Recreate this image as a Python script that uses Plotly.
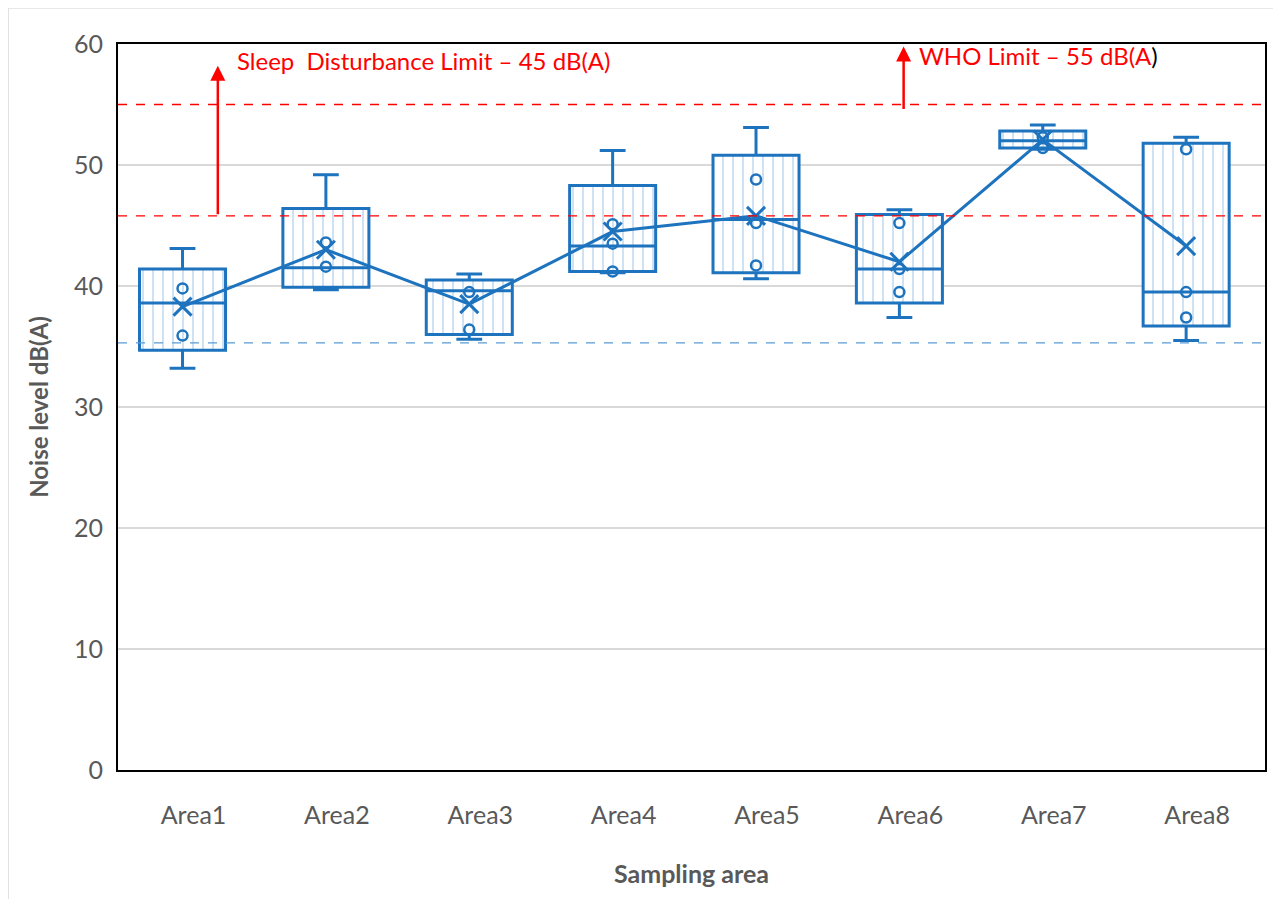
import plotly.graph_objects as go

areas = ["Area1", "Area2", "Area3", "Area4", "Area5", "Area6", "Area7", "Area8"]
q1 = [34.7, 39.9, 36.0, 41.2, 41.1, 38.6, 51.4, 36.7]
median = [38.6, 41.5, 39.6, 43.3, 45.5, 41.4, 52.0, 39.5]
q3 = [41.4, 46.4, 40.5, 48.3, 50.8, 45.9, 52.8, 51.8]
lower = [33.2, 39.7, 35.6, 41.1, 40.6, 37.4, 51.3, 35.5]
upper = [43.1, 49.2, 41.0, 51.2, 53.1, 46.3, 53.3, 52.3]
means = [38.3, 43.0, 38.5, 44.5, 45.8, 42.0, 52.1, 43.3]

pt_area = ["Area1", "Area1", "Area2", "Area2", "Area3", "Area3",
           "Area4", "Area4", "Area4", "Area5", "Area5", "Area5",
           "Area6", "Area6", "Area6", "Area7", "Area7",
           "Area8", "Area8", "Area8"]
pt_val = [39.8, 35.9, 43.6, 41.6, 39.5, 36.4,
          45.1, 43.5, 41.2, 48.8, 45.2, 41.7,
          45.2, 41.4, 39.5, 51.4, 52.3,
          51.3, 39.5, 37.4]

limit_who = 55.0
limit_sleep = 45.8
limit_low = 35.3

BLUE = "#1E73BE"
GRAY = "#595959"
FONT = "Lato"

# page has an 8px body margin: figure coords = page coords - 8
OFF = 8
W, H = 1265, 891
L, T = 118 - OFF, 44 - OFF
R = W - (1267 - OFF)
B = H - (770 - OFF)
pw = W - L - R
ph = H - T - B

def px2paper_x(p):
    return (p - OFF - L) / pw

def px2paper_y(p):
    return (H - B - (p - OFF)) / ph

fig = go.Figure()

iq = [b - a for a, b in zip(q1, q3)]
fig.add_trace(go.Bar(
    x=areas, y=iq, base=q1, width=0.6,
    marker=dict(color="white",
                pattern=dict(shape="|", fgcolor="#7FB2E0", bgcolor="white", size=10, solidity=0.15),
                line=dict(width=0)),
    showlegend=False, hoverinfo="skip"))

fig.add_trace(go.Box(
    x=areas, q1=q1, median=median, q3=q3, lowerfence=lower, upperfence=upper,
    width=0.6, whiskerwidth=0.3, fillcolor="rgba(0,0,0,0)",
    line=dict(color=BLUE, width=3), boxpoints=False, showlegend=False))

fig.add_trace(go.Scatter(
    x=pt_area, y=pt_val, mode="markers",
    marker=dict(symbol="circle-open", size=10, color=BLUE, line=dict(width=2.5, color=BLUE)),
    showlegend=False))

fig.add_trace(go.Scatter(
    x=areas, y=means, mode="lines+markers",
    line=dict(color=BLUE, width=3),
    marker=dict(symbol="x-thin-open", size=18, color=BLUE, line=dict(width=3, color=BLUE)),
    showlegend=False))

for yv, col in [(limit_who, "red"), (limit_sleep, "red"), (limit_low, "#5B9BD5")]:
    fig.add_shape(type="line", xref="paper", yref="y", x0=0, x1=1, y0=yv, y1=yv,
                  line=dict(color=col, width=1.3, dash="dash"))

# outer frame (top and left edges only)
fig.add_shape(type="line", xref="paper", yref="paper",
              x0=px2paper_x(8), x1=px2paper_x(1290), y0=px2paper_y(8), y1=px2paper_y(8),
              line=dict(color="#e0e0e0", width=1.5), layer="below")
fig.add_shape(type="line", xref="paper", yref="paper",
              x0=px2paper_x(8), x1=px2paper_x(8), y0=px2paper_y(8), y1=px2paper_y(910),
              line=dict(color="#e0e0e0", width=1.5), layer="below")

# arrows
fig.add_annotation(xref="paper", yref="y", x=px2paper_x(218), y=58.2,
                   axref="pixel", ayref="y", ax=0, ay=limit_sleep,
                   showarrow=True, arrowhead=2, arrowsize=1.2, arrowwidth=2.5,
                   arrowcolor="red", text="")
fig.add_annotation(xref="paper", yref="y", x=px2paper_x(905), y=59.8,
                   axref="pixel", ayref="y", ax=0, ay=54.5,
                   showarrow=True, arrowhead=2, arrowsize=1.2, arrowwidth=2.5,
                   arrowcolor="red", text="")

fig.add_annotation(xref="paper", yref="paper", x=px2paper_x(235), y=px2paper_y(61),
                   xanchor="left", yanchor="middle", showarrow=False,
                   text="Sleep  Disturbance Limit – 45 dB(A)",
                   font=dict(family=FONT, size=24, color="red"))
fig.add_annotation(xref="paper", yref="paper", x=px2paper_x(918), y=px2paper_y(56),
                   xanchor="left", yanchor="middle", showarrow=False,
                   text="WHO Limit – 55 dB(A<span style='color:black'>)</span>",
                   font=dict(family=FONT, size=24, color="red"))

fig.update_layout(
    width=W, height=H,
    margin=dict(l=L, r=R, t=T, b=B),
    paper_bgcolor="white", plot_bgcolor="white",
    font=dict(family=FONT, color=GRAY),
    xaxis=dict(
        categoryorder="array", categoryarray=areas,
        range=[-0.45, 7.55],
        showgrid=False, showline=True, linecolor="black", linewidth=2, mirror=True,
        ticks="", tickfont=dict(family=FONT, size=25, color=GRAY),
        ticklabelstandoff=22, ticklabelshift=11,
        title=dict(text="<b>Sampling area</b>", font=dict(family=FONT, size=25, color=GRAY), standoff=37),
    ),
    yaxis=dict(
        range=[0, 60], dtick=10,
        showgrid=True, gridcolor="#d9d9d9", gridwidth=2,
        showline=True, linecolor="black", linewidth=2, mirror=True,
        ticks="", tickfont=dict(family=FONT, size=25, color=GRAY),
        ticklabelstandoff=8,
        zeroline=False,
        title=dict(text="<b>Noise level dB(A)</b>", font=dict(family=FONT, size=24, color=GRAY), standoff=19),
    ),
)

fig.write_html("out.html")
